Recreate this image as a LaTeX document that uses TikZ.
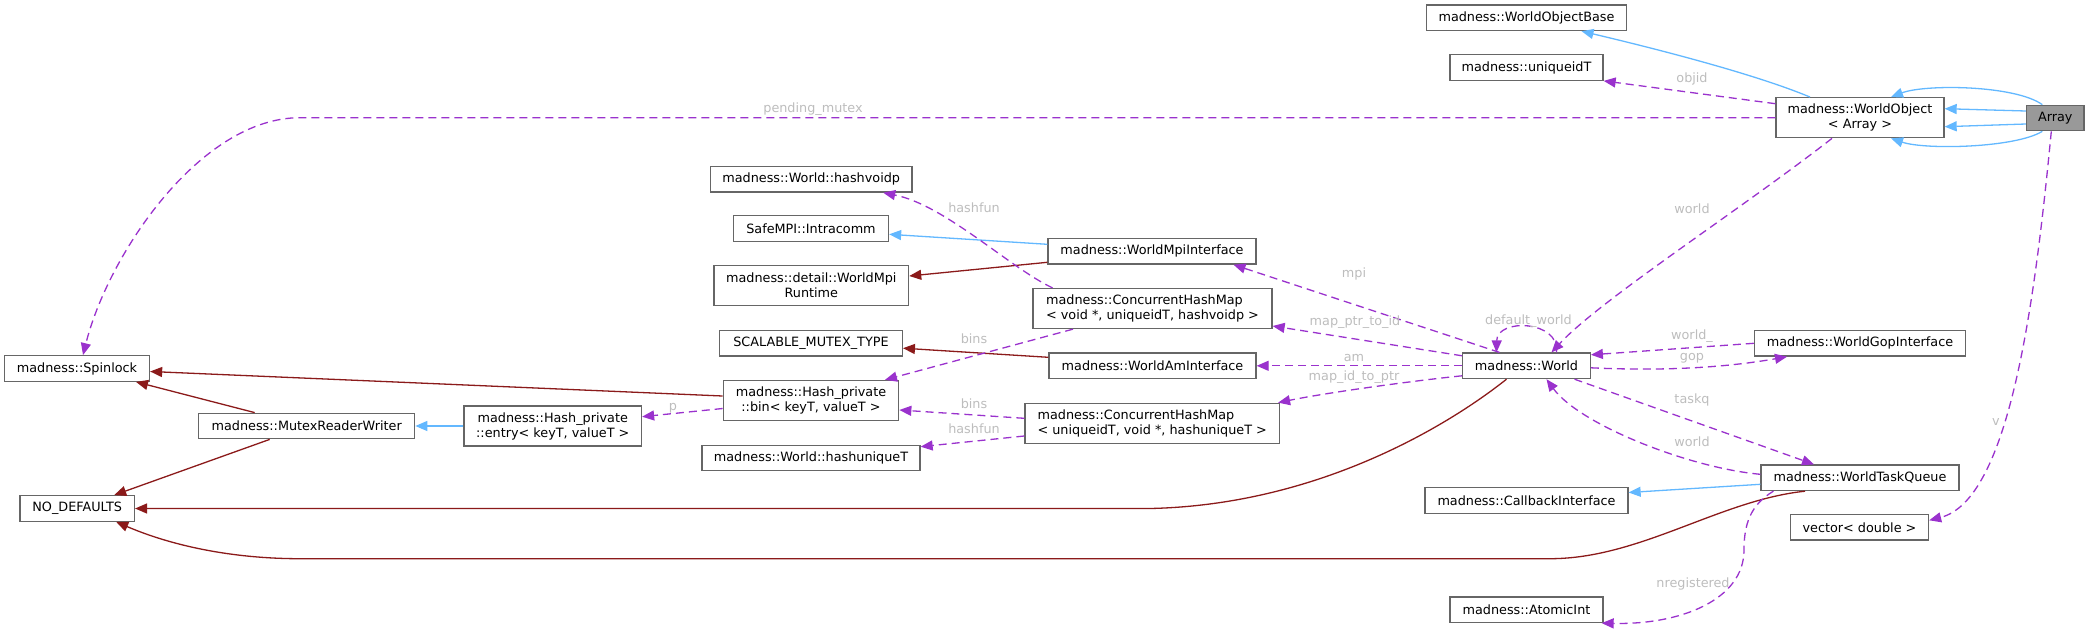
\documentclass[tikz,border=0pt]{standalone}
\usepackage{fontspec}
\setmainfont{DejaVu Sans}
\usetikzlibrary{arrows.meta}

\definecolor{membre}{HTML}{9A32CD}   % liens de membres
\definecolor{herit}{HTML}{63B8FF}    % héritage public
\definecolor{prive}{HTML}{8B1A1A}    % héritage privé
\definecolor{cadre}{HTML}{666666}
\definecolor{etiq}{HTML}{BDBDBD}
\definecolor{fondgris}{HTML}{999999}

\begin{document}
\begin{tikzpicture}[x=1pt, y=-1pt, >={Triangle[length=12pt,width=10pt]},
    classe/.style={draw=cadre, line width=1.3pt, fill=white, inner sep=0pt,
        minimum height=25.5pt, font=\fontsize{12.8}{15}\selectfont},
    etiquette/.style={text=etiq, inner sep=0pt, text height=9.5pt, text depth=2.7pt,
        font=\fontsize{12.8}{15}\selectfont},
    herite/.style={->, draw=herit, line width=1.3pt},
    privee/.style={->, draw=prive, line width=1.3pt},
    lien/.style={->, draw=membre, line width=1.3pt, dash pattern=on 8pt off 5pt}]

    % Cadre de l'image
    \useasboundingbox (0,0) rectangle (2089,629);

    % ==============================================
    % 1. LES CLASSES
    % ==============================================
    \foreach \nom/\x/\y/\lg/\txt in {
        spin/77/368.5/145/madness::Spinlock,
        mrw/306.7/426/216/madness::MutexReaderWriter,
        nodef/77.2/508.5/114.4/NO\_DEFAULTS,
        hvp/811.2/179.3/201.6/madness::World::hashvoidp,
        intra/811/228.5/155/SafeMPI::Intracomm,
        wmi/1152/251.3/208/madness::WorldMpiInterface,
        smt/811/343.2/182.6/SCALABLE\_MUTEX\_TYPE,
        wai/1152.5/365.8/207/madness::WorldAmInterface,
        hut/811/458/218/madness::World::hashuniqueT,
        wob/1526.5/17.8/199.8/madness::WorldObjectBase,
        uid/1526.5/67.5/153/madness::uniqueidT,
        world/1526.5/365.8/127.5/madness::World,
        wgi/1860/343.3/211.2/madness::WorldGopInterface,
        wtq/1860/477.8/198/madness::WorldTaskQueue,
        cbi/1526.5/500.5/203/madness::CallbackInterface,
        vec/1859.5/527.3/138/{vector< double >},
        aint/1526.5/609.7/153/madness::AtomicInt} {
        \node[classe, minimum width=\lg pt] (\nom) at (\x,\y) {\txt};
    }

    % Classes sur deux lignes
    \node[classe, minimum width=177.5pt, minimum height=40pt, align=center] (entry) at (552.75,426)
        {madness::Hash\_private\\::entry< keyT, valueT >};
    \node[classe, minimum width=194.6pt, minimum height=40pt, align=center] (mpirt) at (811.3,285.7)
        {madness::detail::WorldMpi\\Runtime};
    \node[classe, minimum width=239pt, minimum height=40pt, align=left] (chmv) at (1152.5,308.5)
        {madness::ConcurrentHashMap\\< void *, uniqueidT, hashvoidp >};
    \node[classe, minimum width=175.4pt, minimum height=40pt, align=center] (bin) at (811,400.5)
        {madness::Hash\_private\\::bin< keyT, valueT >};
    \node[classe, minimum width=254.5pt, minimum height=40pt, align=left] (chmu) at (1152.2,423.3)
        {madness::ConcurrentHashMap\\< uniqueidT, void *, hashuniqueT >};
    \node[classe, minimum width=168pt, minimum height=40pt, align=center] (wobj) at (1860,117.7)
        {madness::WorldObject\\< Array >};

    % La classe documentée (grisée)
    \node[classe, fill=fondgris, minimum width=57.4pt, minimum height=25.4pt] (arr) at (2055.3,118) {Array};

    % ==============================================
    % 2. HÉRITAGE (bleu et rouge)
    % ==============================================
    \draw[herite] ([xshift=-50pt]wobj.north) .. controls (1750,72) and (1640,45) .. ([xshift=55pt]wob.south);
    \draw[herite] ([xshift=-13pt]arr.north) .. controls (2015,85) and (1925,84) .. ([xshift=31pt]wobj.north);
    \foreach \da/\db in {7/9, -6/-9}
        \draw[herite] ([yshift=\da pt]arr.west) -- ([yshift=\db pt]wobj.east);
    \draw[herite] ([xshift=-13pt]arr.south) .. controls (2015,148) and (1925,150) .. ([xshift=31pt]wobj.south);
    \draw[herite] ([yshift=7pt]wmi.west) -- ([yshift=-5.8pt]intra.east);
    \draw[herite] (entry.west) -- (mrw.east);
    \draw[herite] ([yshift=-6.5pt]wtq.west) -- ([yshift=8pt]cbi.east);

    \draw[privee] ([yshift=-11pt]wmi.west) -- ([yshift=9.7pt]mpirt.east);
    \draw[privee] ([yshift=8.5pt]wai.west) -- ([yshift=-5pt]smt.east);
    \draw[privee] ([yshift=4.5pt]bin.west) -- ([yshift=-3pt]spin.east);
    \draw[privee] ([xshift=-52pt]mrw.north) -- ([xshift=59pt]spin.south);
    \draw[privee] ([xshift=-37pt]mrw.south) -- ([xshift=37pt]nodef.north);
    \draw[privee] ([xshift=-20pt]world.south) .. controls (1445,428) and (1315,505) .. (1150,508.5) -- (nodef.east);
    \draw[privee] ([xshift=-55pt]wtq.south) .. controls (1720,500) and (1640,558.7) .. (1550,558.7)
        -- (300,558.7) .. controls (230,558.7) and (170,545) .. ([xshift=39pt]nodef.south);

    % ==============================================
    % 3. MEMBRES (pointillés violets)
    % ==============================================
    \draw[lien] ([yshift=14pt]wobj.west) -- (uid.south east);
    \draw[lien] (wobj.west) -- (300,117.7) .. controls (200,117.7) and (108,255) .. ([xshift=6pt]spin.north);
    \draw[lien] ([xshift=-28pt]wobj.south) .. controls (1740,210) and (1600,300) .. ([xshift=25pt]world.north);
    \draw[lien] ([xshift=-4pt]arr.south) .. controls (2035,300) and (2010,500) .. ([yshift=7pt]vec.east);

    % Autour de madness::World
    \draw[lien] ([xshift=30pt]world.north) .. controls (1560,320) and (1497,318) .. ([xshift=-30pt]world.north);
    \draw[lien] ([xshift=-27pt]world.north) -- ([xshift=81.5pt]wmi.south);
    \draw[lien] ([yshift=10pt]world.west) -- ([yshift=-17.5pt]chmv.east);
    \draw[lien] (world.west) -- (wai.east);
    \draw[lien] ([yshift=-10pt]world.west) .. controls (1420,380) and (1330,392) .. ([xshift=-2pt]chmu.north east);
    \draw[lien] (wgi.west) -- ([yshift=11pt]world.east);
    \draw[lien] ([yshift=-2pt]world.east) .. controls (1680,372) and (1740,365) .. ([xshift=-73pt]wgi.south);
    \draw[lien] ([xshift=48pt]world.south) -- ([xshift=-46pt]wtq.north);
    \draw[lien] ([yshift=3.5pt]wtq.west) .. controls (1690,468) and (1580,425) .. ([xshift=20pt]world.south);
    \draw[lien] ([xshift=-86.6pt]wtq.south) .. controls (1750,505) and (1744,525) .. (1744,550)
        .. controls (1744,600) and (1680,625) .. ([xshift=-2pt]aint.south east);

    % Tables de hachage
    \draw[lien] ([yshift=-8pt]bin.west) -- ([yshift=9.3pt]entry.east);
    \draw[lien] ([xshift=-79.5pt]chmv.south) -- ([xshift=74pt]bin.north);
    \draw[lien] ([xshift=-100pt]chmv.north) .. controls (1010,268) and (945,205) .. ([xshift=72pt]hvp.south);
    \draw[lien] ([yshift=5pt]chmu.west) -- ([yshift=-9.5pt]bin.east);
    \draw[lien] ([yshift=-12.7pt]chmu.west) -- ([yshift=11.3pt]hut.east);

    % ==============================================
    % 4. ÉTIQUETTES DES LIENS
    % ==============================================
    \foreach \nom/\x/\y/\txt in {
        lObjid/1692/78.7/objid, lMutex/813/109.3/pending\_mutex,
        lWorldA/1692/210/world, lV/1996/421.7/v,
        lDefault/1528.5/320.7/default\_world, lMpi/1354/274/mpi,
        lPtr/1355/321.7/map\_ptr\_to\_id, lAm/1354/357.7/am,
        lId/1354/377.3/map\_id\_to\_ptr, lWorldB/1692/336/world\_,
        lGop/1692/357.3/gop, lTaskq/1692/400/taskq,
        lWorldC/1692/442.7/world, lNreg/1693/584/nregistered,
        lHashA/974/209/hashfun, lBinsA/974/340/bins, lP/673/406.7/p,
        lBinsB/974/405.3/bins, lHashB/974/430/hashfun} {
        \node[etiquette] (\nom) at (\x,\y) {\txt};
    }

\end{tikzpicture}
\end{document}
